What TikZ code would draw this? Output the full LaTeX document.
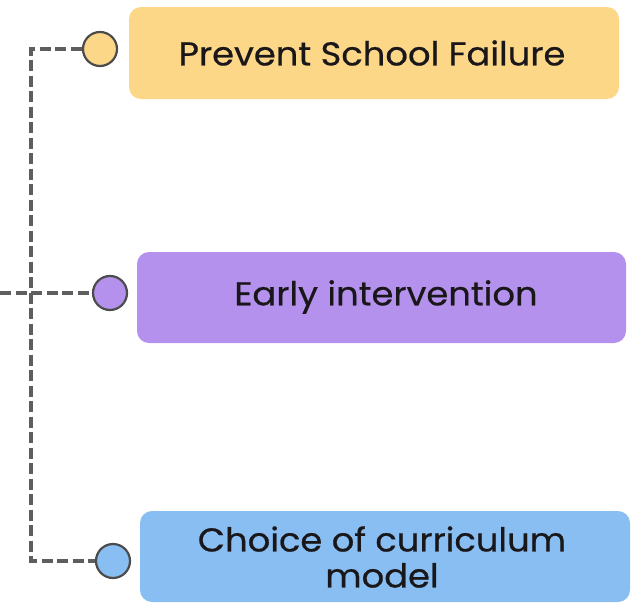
\documentclass[tikz,border=0pt]{standalone}
\usepackage{fontspec}
\setmainfont{Poppins}
\newfontfamily\cardfont{Poppins}[FakeBold=0.6, FakeStretch=1.07]
\definecolor{boxyellow}{HTML}{FDD788}
\definecolor{boxpurple}{HTML}{B491EC}
\definecolor{boxblue}{HTML}{89BEF2}
\definecolor{dashgray}{HTML}{5E5E5E}
\definecolor{ringgray}{HTML}{4C4C4C}
\definecolor{txt}{HTML}{1A171A}
\begin{document}
\begin{tikzpicture}[x=1pt,y=-1pt,
  card/.style={inner sep=0pt, text=txt, align=center,
    font=\cardfont\fontsize{33}{36}\selectfont},
  dot/.style={circle, draw=ringgray, line width=2.2pt, minimum size=34pt, inner sep=0pt},
  link/.style={draw=dashgray, line width=3.4pt, dash pattern=on 11pt off 4.5pt}]
\useasboundingbox (0,0) rectangle (635,605);
% cards
\fill[boxyellow, rounded corners=12pt] (129,7) rectangle (619,99);
\node[card] (t1) at (372,53) {Prevent School Failure};
\fill[boxpurple, rounded corners=12pt] (137,252) rectangle (626,343);
\node[card] (t2) at (386,297) {Early intervention};
\fill[boxblue, rounded corners=12pt] (140,511) rectangle (630,602);
\node[card] (t3) at (382,557) {Choice of curriculum\\model};
% dots
\node[dot, fill=boxyellow] (c1) at (100,49) {};
\node[dot, fill=boxpurple] (c2) at (110,293) {};
\node[dot, fill=boxblue] (c3) at (113,561) {};
% connectors
\coordinate (k1) at (31,49);
\coordinate (k3) at (31,561);
\coordinate (m0) at (0,293);
\draw[link] (c1.west) -- (k1) -- (k3) -- (c3.west);
\draw[link] (m0) -- (c2.west);
\end{tikzpicture}
\end{document}
